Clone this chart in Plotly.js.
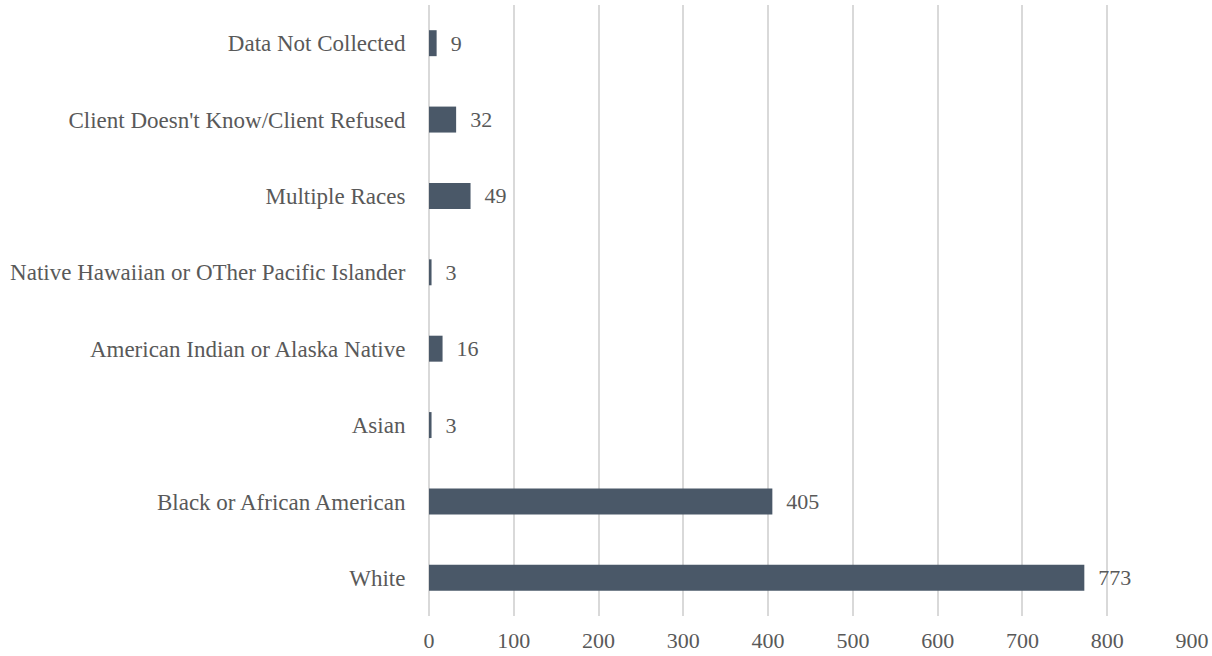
<!DOCTYPE html>
<html>
<head>
<meta charset="utf-8">
<script src="https://cdn.plot.ly/plotly-3.0.1.min.js"></script>
<style>html,body{margin:0;padding:0;background:#fff;}#chart{width:1212px;height:656px;}</style>
</head>
<body>
<div id="chart"></div>
<script>
const categories = ["White", "Black or African American", "Asian", "American Indian or Alaska Native", "Native Hawaiian or OTher Pacific Islander", "Multiple Races", "Client Doesn't Know/Client Refused", "Data Not Collected"];
const counts = [773, 405, 3, 16, 3, 49, 32, 9];
const xTicks = [0, 100, 200, 300, 400, 500, 600, 700, 800, 900];

const font = "'Liberation Serif', 'DejaVu Serif', serif";
Plotly.newPlot("chart", [{
  type: "bar",
  orientation: "h",
  y: categories,
  x: counts,
  width: 0.34,
  marker: {color: "#4a5868"},
  text: counts.map(v => "\u00a0\u00a0" + v),
  textposition: "outside",
  cliponaxis: false,
  textfont: {family: font, size: 22, color: "#595959"},
  hoverinfo: "skip"
}], {
  width: 1212, height: 656,
  margin: {l: 429, r: 20, t: 5, b: 40},
  paper_bgcolor: "#fff", plot_bgcolor: "#fff",
  showlegend: false,
  font: {family: font, size: 22, color: "#595959"},
  xaxis: {
    range: [0, 900], tickvals: xTicks, ticktext: xTicks.map(String),
    showgrid: true, gridcolor: "#d9d9d9", gridwidth: 2,
    zeroline: true, zerolinecolor: "#d9d9d9", zerolinewidth: 2,
    showline: false, ticks: "outside", ticklen: 5, tickcolor: "rgba(0,0,0,0)",
    tickfont: {family: font, size: 22, color: "#595959"}
  },
  yaxis: {
    type: "category", automargin: false,
    showgrid: false, zeroline: false, showline: false,
    ticks: "outside", ticklen: 18, tickcolor: "rgba(0,0,0,0)",
    tickfont: {family: font, size: 23, color: "#595959"}
  },
  bargap: 0.66
}, {displayModeBar: false, staticPlot: true});
</script>
</body>
</html>
